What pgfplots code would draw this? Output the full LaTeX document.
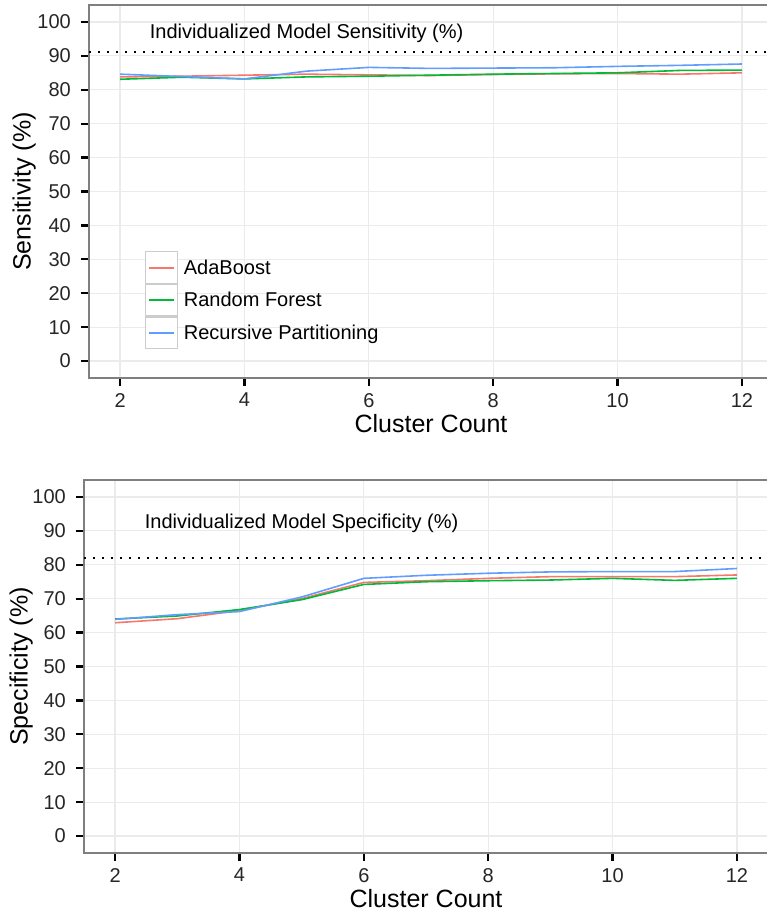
\documentclass[border=0pt]{standalone}
\usepackage{fontspec}
\setmainfont{Liberation Sans}
\usepackage{pgfplots}
\pgfplotsset{compat=1.18}
\definecolor{cred}{HTML}{F8766D}
\definecolor{cgreen}{HTML}{00BA38}
\definecolor{cblue}{HTML}{619CFF}
\definecolor{gridc}{HTML}{EBEBEB}
\definecolor{framec}{HTML}{7F7F7F}
\pgfplotsset{
 mystyle/.style={
  scale only axis, width=700pt, height=373pt,
  xmin=1.5, xmax=12.757, ymin=-5, ymax=105,
  xtick={2,4,...,12}, ytick={0,10,...,100},
  xtick pos=left, ytick pos=left,
  grid=major, major grid style={gridc, line width=1.2pt},
  axis line style={framec, line width=1.2pt},
  xtick align=outside, ytick align=outside, major tick length=8pt,
  tick label style={font=\fontsize{20}{24}\selectfont, text=black!85, inner sep=0pt},
  yticklabel style={xshift=-10pt},
  xticklabel style={yshift=-7pt},
  /pgf/number format/assume math mode=true,
  label style={font=\fontsize{25}{30}\selectfont, inner sep=0pt},
  xlabel style={at={(axis description cs:0.4886,0)}, anchor=north, yshift=-36pt},
  every axis plot/.append style={line width=1.6pt},
 },
 legkey/.style={legend image code/.code={
    \draw[draw=black!20, line width=1.2pt, fill=white, solid] (0pt,-15.75pt) rectangle (31.5pt,15.75pt);
    \draw[draw=#1, line width=2pt, solid, opacity=1] (3pt,0pt) -- (28.5pt,0pt);}}
}
\begin{document}
\begin{tikzpicture}
\path[use as bounding box] (0pt,-915pt) rectangle (766pt,0pt);
\begin{axis}[mystyle, at={(89pt,-378pt)}, anchor=south west,
  every tick/.style={draw=black, line width=2.2pt},
  xlabel={Cluster Count}, ylabel={Sensitivity (\%)},
  ylabel style={at={(axis description cs:-0.0757,0.5)}, anchor=south, rotate=0},
  legend style={at={(axis description cs:0.08,0.3405)}, anchor=north west,
    draw=none, fill=none, inner sep=0pt, row sep=0pt, column sep=4pt,
    font=\fontsize{20}{24}\selectfont},
  legend cell align=left
  ]
\addplot[cred, legkey=cred] coordinates {(2,83.8) (3,84.0) (4,84.3) (5,84.6) (6,84.4) (7,84.2) (8,84.5) (9,84.7) (10,84.8) (11,84.6) (12,85.0)};
\addlegendentry{AdaBoost}
\addplot[cgreen, legkey=cgreen] coordinates {(2,83.1) (3,83.7) (4,83.2) (5,83.8) (6,84.0) (7,84.3) (8,84.6) (9,84.8) (10,85.0) (11,85.7) (12,85.8)};
\addlegendentry{Random Forest}
\addplot[cblue, legkey=cblue] coordinates {(2,84.6) (3,83.9) (4,83.2) (5,85.5) (6,86.6) (7,86.3) (8,86.4) (9,86.5) (10,86.9) (11,87.2) (12,87.6)};
\addlegendentry{Recursive Partitioning}
\addplot[black, line width=2pt, dash pattern=on 2pt off 7pt, forget plot] coordinates {(1.5,91) (12.757,91)};
\node[font=\fontsize{20}{24}\selectfont, anchor=center] at (axis cs:5,96.7) {Individualized Model Sensitivity (\%)};
\end{axis}
\begin{axis}[mystyle, at={(84pt,-853pt)}, anchor=south west,
  every tick/.style={draw=black, line width=2.2pt},
  xlabel={Cluster Count}, ylabel={Specificity (\%)},
  ylabel style={at={(axis description cs:-0.0729,0.5)}, anchor=south, rotate=0}]
\addplot[cred] coordinates {(2,62.9) (3,64.1) (4,66.5) (5,70.0) (6,74.8) (7,75.3) (8,76.0) (9,76.5) (10,76.5) (11,76.5) (12,77.0)};
\addplot[cgreen] coordinates {(2,64.0) (3,64.9) (4,66.8) (5,69.7) (6,74.2) (7,75.0) (8,75.3) (9,75.5) (10,76.0) (11,75.4) (12,76.0)};
\addplot[cblue] coordinates {(2,63.9) (3,65.3) (4,66.2) (5,70.5) (6,76.0) (7,76.9) (8,77.5) (9,77.9) (10,78.0) (11,78.0) (12,78.9)};
\addplot[black, line width=2pt, dash pattern=on 2pt off 7pt] coordinates {(1.5,82) (12.757,82)};
\node[font=\fontsize{20}{24}\selectfont, anchor=center] at (axis cs:5,92.3) {Individualized Model Specificity (\%)};
\end{axis}
\end{tikzpicture}
\end{document}
